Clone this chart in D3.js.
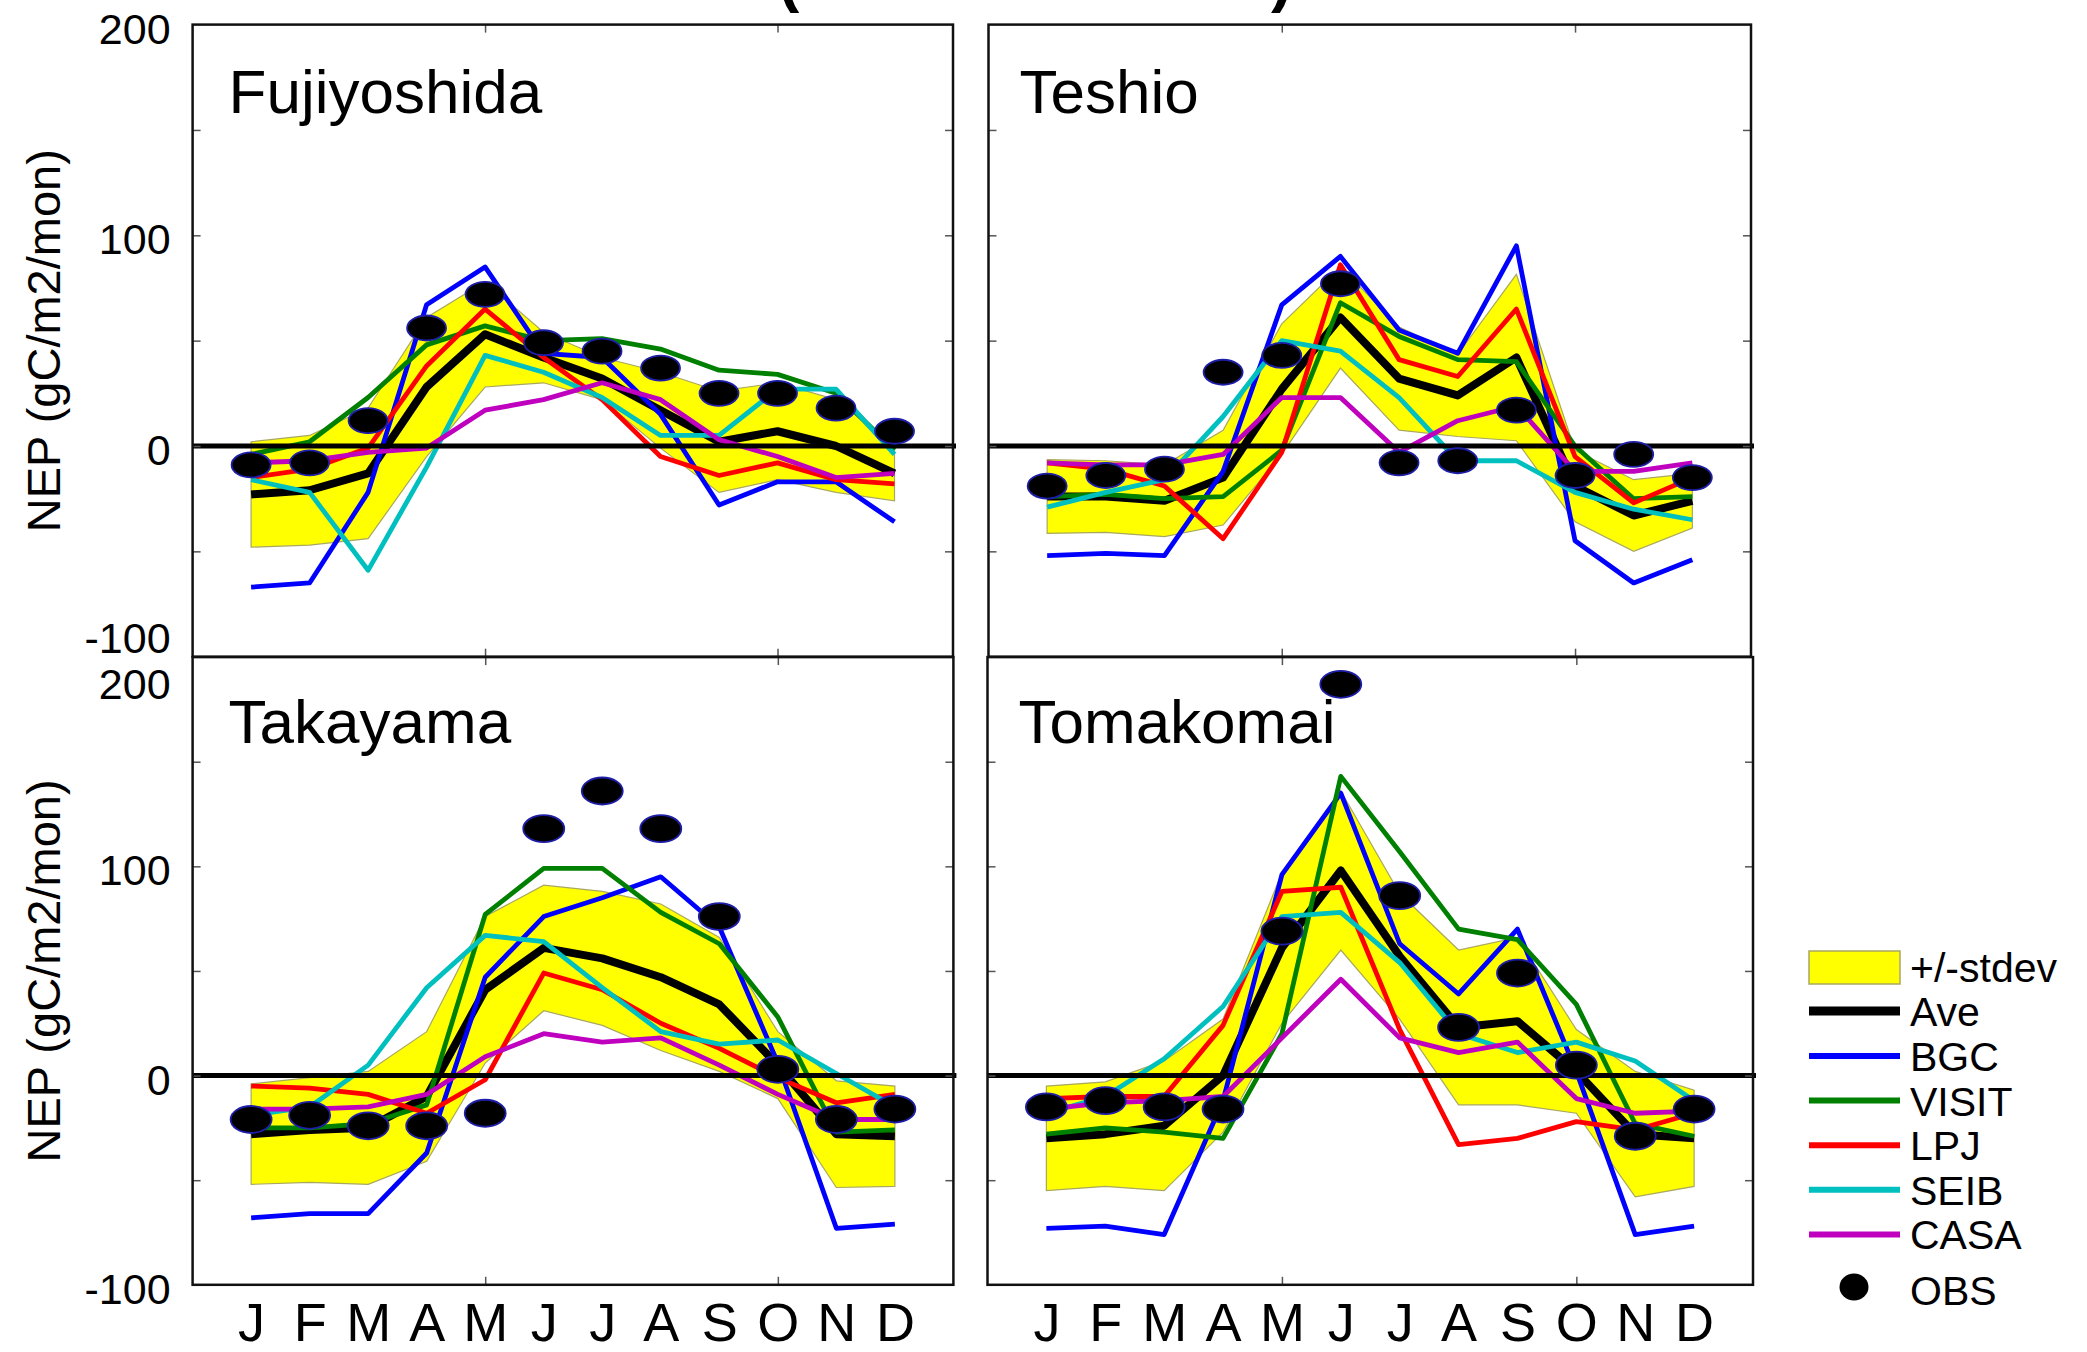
<!DOCTYPE html>
<html>
<head>
<meta charset="utf-8">
<script src="https://cdn.jsdelivr.net/npm/d3@7"></script>
<style>
  html, body { margin: 0; padding: 0; background: #fff; }
  svg { display: block; }
  text { font-family: "Liberation Sans", Arial, Helvetica, sans-serif; fill: #000; }
</style>
</head>
<body>
<svg id="chart" width="2087" height="1352"></svg>
<script>
// Monthly NEP (gC/m2/mon) at four flux sites: five ecosystem models,
// their ensemble mean +/- one standard deviation, and tower observations.
const months = ["J", "F", "M", "A", "M", "J", "J", "A", "S", "O", "N", "D"];
const yTickLabels = [-100, 0, 100, 200];
const seriesNames = ["BGC", "VISIT", "LPJ", "SEIB", "CASA"];

// Fujiyoshida
const fujiyoshidaAve   = [-23, -21, -13, 28, 53, 42, 32, 17, 2, 7, 0, -13];
const fujiyoshidaSd    = [25, 26, 31, 33, 25, 12, 10, 18, 24, 23, 22, 13];
const fujiyoshidaBGC   = [-67, -65, -22, 67, 85, 44, 42, 15, -28, -17, -17, -36];
const fujiyoshidaVISIT = [-4, 2, 23, 48, 57, 50, 51, 46, 36, 34, 25, -2];
const fujiyoshidaLPJ   = [-15, -11, -1, 38, 65, 42, 22, -5, -14, -8, -16, -18];
const fujiyoshidaSEIB  = [-16, -22, -59, -10, 43, 35, 23, 5, 5, 27, 27, -4];
const fujiyoshidaCASA  = [-8, -7, -3, -1, 17, 22, 30, 22, 3, -5, -15, -13];
const fujiyoshidaOBS   = [-9, -8, 12, 56, 72, 49, 45, 37, 25, 25, 18, 7];

// Teshio
const teshioAve   = [-24, -24, -26, -15, 27, 61, 32, 24, 42, -19, -33, -26];
const teshioSd    = [17.5, 17, 17, 22.5, 31, 24, 24.5, 19.5, 39.5, 17, 17, 13];
const teshioBGC   = [-52, -51, -52, -12, 67, 90, 55, 44, 95, -45, -65, -54];
const teshioVISIT = [-24, -23, -25, -24, -2, 68, 52, 41, 40, 0, -25, -24];
const teshioLPJ   = [-8, -11, -19, -44, -3, 86, 41, 33, 65, -5, -27, -15];
const teshioSEIB  = [-29, -22, -16, 14, 50, 45, 23, -7, -7, -22, -30, -35];
const teshioCASA  = [-8, -9, -9, -4, 23, 23, -3, 12, 19, -12, -12, -8];
const teshioOBS   = [-19, -14, -11, 35, 43, 77, -8, -7, 17, -14, -4, -15];

// Takayama
const takayamaAve   = [-28, -26, -25, -10, 41, 61, 56, 47, 34, 5, -28, -29];
const takayamaSd    = [24, 25, 27, 31, 35, 30, 32, 35, 32, 16, 25.5, 24];
const takayamaBGC   = [-68, -66, -66, -37, 47, 76, 85, 95, 71, 6, -73, -71];
const takayamaVISIT = [-25, -25, -23, -14, 77, 99, 99, 78, 63, 28, -27, -26];
const takayamaLPJ   = [-5, -6, -9, -18, -2, 49, 41, 25, 13, -1, -13, -9];
const takayamaSEIB  = [-19, -15, 5, 42, 67, 64, 42, 21, 15, 17, 1, -15];
const takayamaCASA  = [-16, -16, -15, -9, 9, 20, 16, 18, 5, -9, -21, -21];
const takayamaOBS   = [-21, -19, -24, -24, -18, 118, 136, 118, 76, 3, -21, -16];

// Tomakomai
const tomakomaiAve   = [-30, -28, -24, 0, 61, 98, 57, 23, 26, 2, -28, -30];
const tomakomaiSd    = [25, 25, 31, 27, 36, 38, 30, 37, 40, 20, 30, 23];
const tomakomaiBGC   = [-73, -72, -76, -12, 96, 135, 63, 39, 70, 2, -76, -72];
const tomakomaiVISIT = [-28, -25, -27, -30, 20, 143, 107, 70, 65, 34, -23, -29];
const tomakomaiLPJ   = [-11, -10, -10, 24, 88, 90, 22, -33, -30, -22, -26, -18];
const tomakomaiSEIB  = [-18, -10, 8, 33, 76, 78, 54, 20, 11, 16, 7, -12];
const tomakomaiCASA  = [-16, -13, -12, -10, 18, 46, 18, 11, 16, -11, -18, -17];
const tomakomaiOBS   = [-15, -12, -15, -16, 69, 187, 86, 23, 49, 5, -29, -16];

const sites = [
  { name: "Fujiyoshida", ave: fujiyoshidaAve, sd: fujiyoshidaSd, obs: fujiyoshidaOBS,
    models: [fujiyoshidaBGC, fujiyoshidaVISIT, fujiyoshidaLPJ, fujiyoshidaSEIB, fujiyoshidaCASA] },
  { name: "Teshio", ave: teshioAve, sd: teshioSd, obs: teshioOBS,
    models: [teshioBGC, teshioVISIT, teshioLPJ, teshioSEIB, teshioCASA] },
  { name: "Takayama", ave: takayamaAve, sd: takayamaSd, obs: takayamaOBS,
    models: [takayamaBGC, takayamaVISIT, takayamaLPJ, takayamaSEIB, takayamaCASA] },
  { name: "Tomakomai", ave: tomakomaiAve, sd: tomakomaiSd, obs: tomakomaiOBS,
    models: [tomakomaiBGC, tomakomaiVISIT, tomakomaiLPJ, tomakomaiSEIB, tomakomaiCASA] }
];

// Panel layout (pixel frames) and styling
const frames = [
  { x0: 192.6, x1: 953,   y0: 24.6,  y1: 656.7,  left: true,  bottom: false },
  { x0: 988.5, x1: 1751,  y0: 24.6,  y1: 656.7,  left: false, bottom: false },
  { x0: 192.6, x1: 953.4, y0: 657.1, y1: 1284.8, left: true,  bottom: true },
  { x0: 987.5, x1: 1753,  y0: 657.1, y1: 1284.8, left: false, bottom: true }
];
const modelColors = ["#0000ff", "#008000", "#ff0000", "#00bfbf", "#bf00bf"];
const bandFill = "#ffff00";
const bandEdge = "#a8a860";
const dotEdge = "#1e1ea8";

const svg = d3.select("#chart");

// Clipped title fragment at the very top
svg.append("text").attr("x", 778).attr("y", 0)
  .attr("font-size", 64).attr("font-weight", "bold").text("(");
svg.append("text").attr("x", 1271).attr("y", 0)
  .attr("font-size", 64).attr("font-weight", "bold").text(")");

sites.forEach((site, k) => {
  const f = frames[k];
  const x = d3.scaleLinear().domain([0, 13]).range([f.x0, f.x1]);
  const y = d3.scaleLinear().domain([-100, 200]).range([f.y1, f.y0]);
  const g = svg.append("g");

  const rows = site.ave.map((a, i) => ({ m: i + 1, ave: a, sd: site.sd[i] }));

  // +/- stdev band
  g.append("path").datum(rows)
    .attr("d", d3.area().x(d => x(d.m)).y0(d => y(d.ave - d.sd)).y1(d => y(d.ave + d.sd)))
    .attr("fill", bandFill).attr("stroke", bandEdge).attr("stroke-width", 1.2);

  const line = d3.line().x((d, i) => x(i + 1)).y(d => y(d));

  // ensemble mean
  g.append("path").datum(site.ave).attr("d", line)
    .attr("fill", "none").attr("stroke", "#000").attr("stroke-width", 8)
    .attr("stroke-linejoin", "round");

  // individual models
  site.models.forEach((vals, j) => {
    g.append("path").datum(vals).attr("d", line)
      .attr("fill", "none").attr("stroke", modelColors[j]).attr("stroke-width", 4.8)
      .attr("stroke-linejoin", "round");
  });

  // zero line
  g.append("line")
    .attr("x1", f.x0).attr("x2", f.x1 + 3)
    .attr("y1", y(0)).attr("y2", y(0))
    .attr("stroke", "#000").attr("stroke-width", 5);

  // observations
  g.selectAll("ellipse.obs").data(site.obs).enter().append("ellipse")
    .attr("class", "obs")
    .attr("cx", (d, i) => x(i + 1)).attr("cy", d => y(d))
    .attr("rx", f.bottom ? 20.5 : 19.5).attr("ry", f.bottom ? 13.5 : 12.5)
    .attr("fill", "#000").attr("stroke", dotEdge).attr("stroke-width", 1.8);

  // minor inward ticks on all four sides
  const tickStyle = sel => {
    sel.select(".domain").remove();
    sel.selectAll("line").attr("stroke", "#555").attr("stroke-width", 1.5);
  };
  const yTicks = [-50, 0, 50, 100, 150];
  g.append("g").attr("transform", `translate(${f.x0},0)`)
    .call(d3.axisLeft(y).tickValues(yTicks).tickSize(-8).tickFormat(""))
    .call(tickStyle);
  g.append("g").attr("transform", `translate(${f.x1},0)`)
    .call(d3.axisRight(y).tickValues(yTicks).tickSize(-8).tickFormat(""))
    .call(tickStyle);
  g.append("g").attr("transform", `translate(0,${f.y1})`)
    .call(d3.axisBottom(x).tickValues([5, 10]).tickSize(-8).tickFormat(""))
    .call(tickStyle);
  g.append("g").attr("transform", `translate(0,${f.y0})`)
    .call(d3.axisTop(x).tickValues([5, 10]).tickSize(-8).tickFormat(""))
    .call(tickStyle);

  // frame
  g.append("rect")
    .attr("x", f.x0).attr("y", f.y0)
    .attr("width", f.x1 - f.x0).attr("height", f.y1 - f.y0)
    .attr("fill", "none").attr("stroke", "#111").attr("stroke-width", 2.5);

  // y tick labels and title on the left column
  if (f.left) {
    const ax = g.append("g").attr("transform", `translate(${f.x0},0)`)
      .call(d3.axisLeft(y).tickValues(yTickLabels).tickSize(0).tickPadding(22)
        .tickFormat(d => String(d)));
    ax.select(".domain").remove();
    ax.selectAll("text")
      .attr("font-size", 43)
      .attr("font-family", "'Liberation Sans', Arial, sans-serif")
      .attr("fill", "#000")
      .attr("dy", d => {
        if (!f.bottom && d === -100) return "-4px";
        if (f.bottom && d === 200) return "41px";
        return "0.43em";
      });

    svg.append("text")
      .attr("transform", `translate(60,${(f.y0 + f.y1) / 2}) rotate(-90)`)
      .attr("text-anchor", "middle")
      .attr("font-size", 47)
      .text("NEP (gC/m2/mon)");
  }

  // month labels under the bottom row
  if (f.bottom) {
    const ax = g.append("g").attr("transform", `translate(0,${f.y1})`)
      .call(d3.axisBottom(x).tickValues(d3.range(1, 13)).tickSize(0).tickPadding(18)
        .tickFormat(m => months[m - 1]));
    ax.select(".domain").remove();
    ax.selectAll("text")
      .attr("font-size", 54)
      .attr("font-family", "'Liberation Sans', Arial, sans-serif")
      .attr("fill", "#000");
  }

  // site name
  g.append("text")
    .attr("x", f.x0 + (f.left ? 36 : 31))
    .attr("y", f.y0 + (f.bottom ? 85.6 : 88))
    .attr("font-size", 62)
    .text(site.name);
});

// Legend
const legend = svg.append("g");
const legendX0 = 1809, legendX1 = 1900, legendTextX = 1910;
const legendItems = [
  { label: "+/-stdev", kind: "band", y: 967 },
  { label: "Ave", kind: "line", color: "#000", width: 9, y: 1011 },
  ...seriesNames.map((s, j) => ({ label: s, kind: "line", color: modelColors[j], width: 6, y: 1056 + j * 44.6 })),
  { label: "OBS", kind: "dot", y: 1287 }
];
legendItems.forEach(it => {
  if (it.kind === "band") {
    legend.append("rect").attr("x", legendX0).attr("y", it.y - 16)
      .attr("width", legendX1 - legendX0).attr("height", 33)
      .attr("fill", bandFill).attr("stroke", bandEdge).attr("stroke-width", 1.5);
  } else if (it.kind === "line") {
    legend.append("line").attr("x1", legendX0).attr("x2", legendX1)
      .attr("y1", it.y).attr("y2", it.y)
      .attr("stroke", it.color).attr("stroke-width", it.width);
  } else {
    legend.append("ellipse").attr("cx", 1854).attr("cy", it.y)
      .attr("rx", 14.5).attr("ry", 13.5).attr("fill", "#000");
  }
  legend.append("text").attr("x", legendTextX).attr("y", it.y + (it.kind === "dot" ? 18 : 15))
    .attr("font-size", 41).text(it.label);
});
</script>
</body>
</html>
